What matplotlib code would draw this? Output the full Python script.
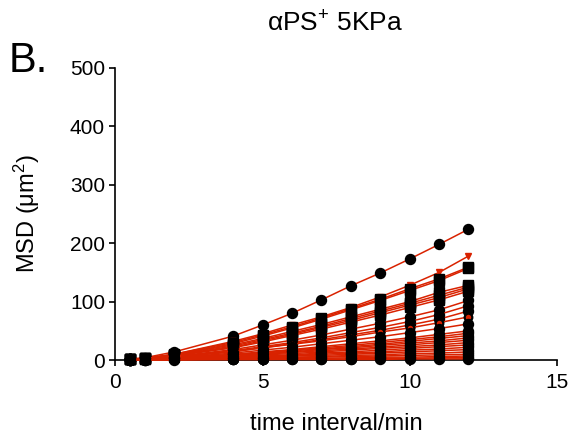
import matplotlib
matplotlib.use("Agg")
import matplotlib.pyplot as plt

plt.rcParams['font.family'] = ['Liberation Sans', 'DejaVu Sans']
plt.rcParams['mathtext.fontset'] = 'custom'
plt.rcParams['mathtext.rm'] = 'Liberation Sans'
plt.rcParams['mathtext.it'] = 'Liberation Sans:italic'

# time points (min)
times = [0.5, 1, 2, 4, 5, 6, 7, 8, 9, 10, 11, 12]

# MSD per track (um^2)
tracks = [
    [2, 4, 14, 41, 60, 80, 103, 127, 149, 173, 198, 224],
    [1.5, 3, 10, 32, 45, 60, 74, 90, 108, 128, 150, 178],
    [1, 3, 10, 30, 43, 57, 72, 88, 104, 122, 139, 159],
    [1, 3, 9, 28, 41, 55, 70, 86, 102, 119, 136, 157],
    [1, 3, 9, 26, 37, 49, 61, 74, 87, 100, 116, 128],
    [1, 3, 8, 24, 35, 46, 58, 71, 84, 97, 111, 125],
    [1, 2, 8, 22, 33, 44, 56, 68, 81, 94, 107, 122],
    [1, 2, 7, 21, 31, 42, 53, 65, 77, 90, 103, 118],
    [1, 2, 6, 18, 26, 34, 43, 53, 63, 74, 86, 102],
    [1, 2, 6, 16, 23, 30, 38, 47, 56, 66, 78, 93],
    [1, 2, 5, 14, 21, 28, 35, 43, 51, 60, 70, 84],
    [1, 2, 5, 15, 21, 27, 33, 40, 48, 55, 64, 74],
    [1, 2, 4, 12, 17, 22, 28, 34, 40, 47, 54, 62],
    [1, 2, 4, 10, 14, 18, 23, 28, 33, 38, 44, 50],
    [1, 2, 4, 9, 13, 17, 21, 25, 30, 35, 40, 46],
    [1, 2, 3, 8, 12, 16, 19, 23, 27, 32, 37, 42],
    [1, 1, 3, 8, 11, 14, 18, 21, 25, 29, 33, 38],
    [1, 1, 3, 7, 10, 13, 16, 19, 22, 26, 30, 34],
    [1, 1, 3, 6, 9, 11, 14, 17, 20, 23, 26, 30],
    [0, 1, 2, 5, 7, 9, 12, 14, 17, 20, 23, 26],
    [0, 1, 2, 5, 6, 8, 10, 12, 14, 17, 19, 22],
    [0, 1, 2, 4, 5, 7, 8, 10, 12, 14, 16, 18],
    [0, 1, 1, 3, 4, 5, 6, 8, 9, 11, 12, 14],
    [0, 1, 1, 2, 3, 4, 5, 6, 7, 8, 9, 10],
    [0, 0, 1, 2, 2, 3, 3, 4, 5, 5, 6, 7],
    [0, 0, 1, 1, 1, 2, 2, 2, 3, 3, 4, 4],
    [0, 0, 0, 1, 1, 1, 1, 1, 1, 2, 2, 2],
]
symbols = ['o', 'v', 's', 's', 's', 's', 's', 's', 'o', 'o', 'o', 'h'] + ['o'] * 15

red = '#d92200'

fig = plt.figure(figsize=(5.86, 4.44), dpi=100)
ax = fig.add_axes([0.197, 0.189, 0.753, 0.658])

for vals, sym in zip(tracks, symbols):
    if sym == 'v':
        ax.plot(times, vals, color=red, lw=1.1, marker='v', ms=5,
                mfc=red, mec=red, clip_on=False, zorder=3)
    elif sym == 'h':
        ax.plot(times, vals, color=red, lw=1.1, marker='o', ms=5.5,
                mfc=red, mec='black', mew=1.6, clip_on=False, zorder=3)
    else:
        ax.plot(times, vals, color=red, lw=1.1, marker=sym, ms=7.2,
                mfc='black', mec='black', clip_on=False, zorder=3)

ax.set_xlim(0, 15)
ax.set_ylim(0, 500)
ax.set_xticks([0, 5, 10, 15])
ax.set_yticks([0, 100, 200, 300, 400, 500])
for s in ['top', 'right']:
    ax.spines[s].set_visible(False)
for s in ['left', 'bottom']:
    ax.spines[s].set_linewidth(1.2)
ax.tick_params(direction='out', length=4.3, width=1.2, labelsize=15)
ax.tick_params(axis='x', pad=5)
ax.tick_params(axis='y', pad=3.2)

ax.set_xlabel('time interval/min', fontsize=17, labelpad=15)
ax.set_ylabel('MSD (μm$^2$)', fontsize=17, labelpad=20)

fig.text(335 / 586, 1 - 32 / 444, 'αPS$^{+}$ 5KPa', fontsize=19,
         ha='center', va='baseline')
fig.text(9 / 586, 1 - 72 / 444, 'B.', fontsize=30, ha='left', va='baseline')

fig.savefig('out.png', dpi=100)
